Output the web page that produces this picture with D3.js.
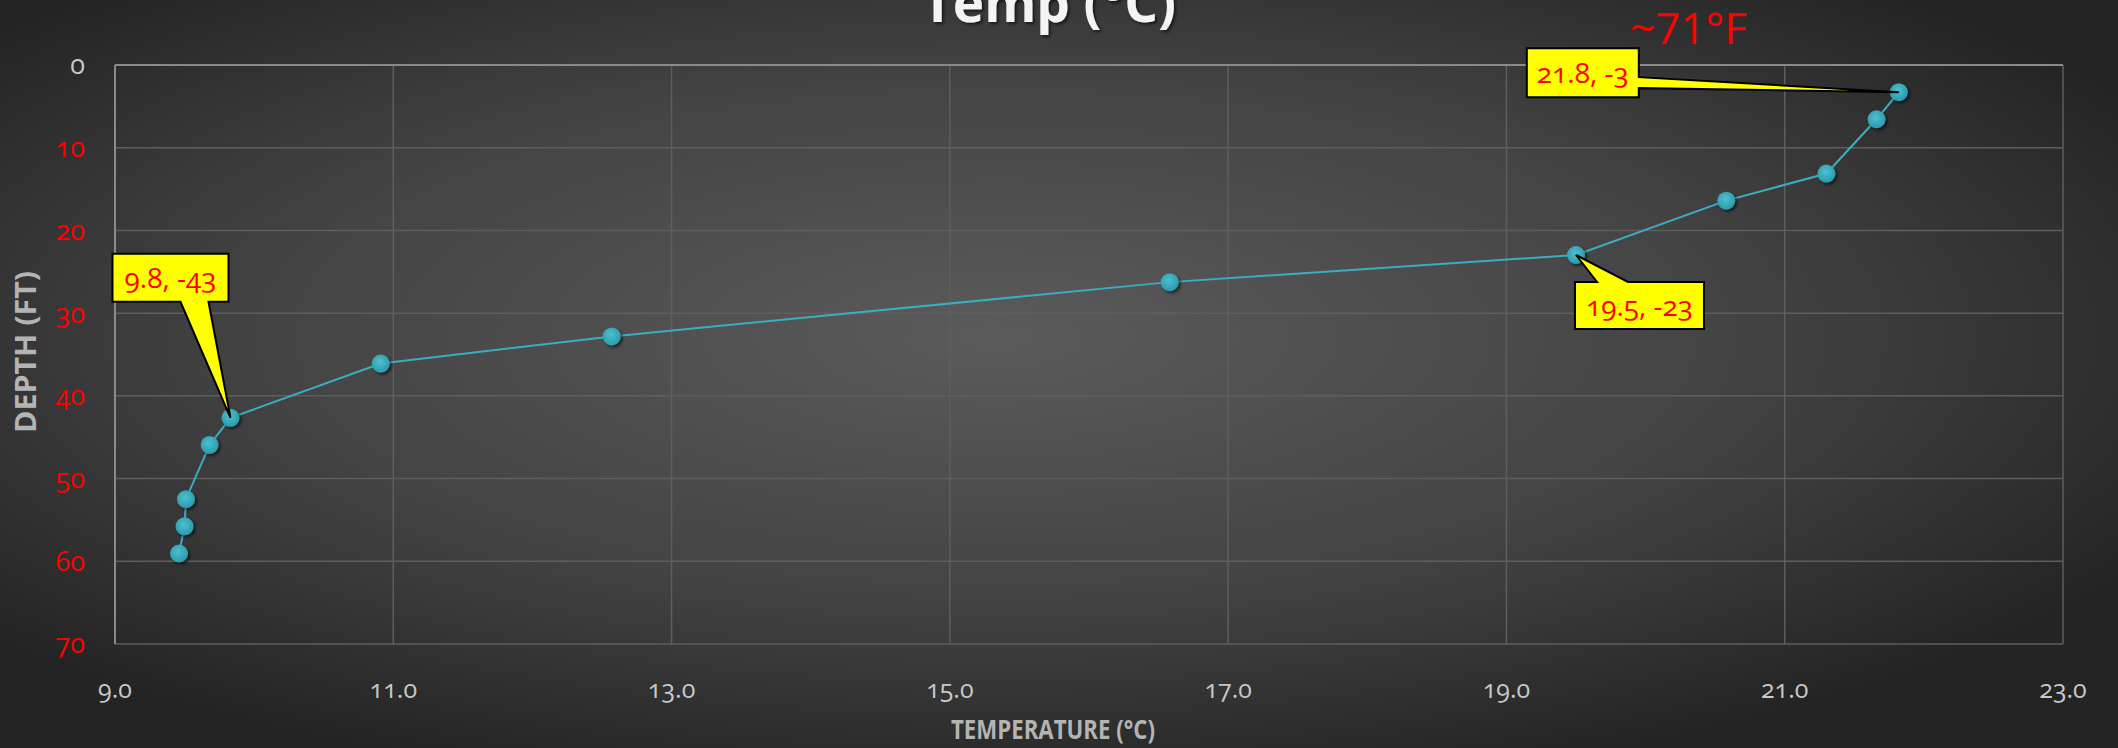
<!DOCTYPE html>
<html>
<head>
<meta charset="utf-8">
<script src="https://cdn.jsdelivr.net/npm/d3@7"></script>
<style>
  html, body { margin: 0; padding: 0; background: #2a2a2a; }
  svg text { font-family: "Open Sans", "Noto Sans", sans-serif; }
</style>
</head>
<body>
<div id="chart"></div>
<script>
// Temperature profile: temperature (°C) vs depth (ft)
const temperature = [21.82, 21.66, 21.30, 20.58, 19.50, 16.58, 12.57, 10.91, 9.83, 9.68, 9.51, 9.50, 9.46];
const depth = [3.28, 6.56, 13.12, 16.40, 22.97, 26.25, 32.81, 36.09, 42.65, 45.93, 52.49, 55.77, 59.06];

const xTicks = [9, 11, 13, 15, 17, 19, 21, 23];
const yTicks = [0, 10, 20, 30, 40, 50, 60, 70];

// callouts: index of the point they point to and their label
const calloutIndex = [8, 0, 4];
const calloutText = ["9.8, -43", "21.8, -3", "19.5, -23"];

const width = 2118;
const height = 748;
const margin = {top: 65, right: 55, bottom: 104, left: 115};

const svg = d3.select("#chart")
    .append("svg")
        .attr("width", width)
        .attr("height", height);

const defs = svg.append("defs");
// background glow, lighter in the middle
const bg = defs.append("radialGradient")
    .attr("id", "bg")
    .attr("cx", "0.47").attr("cy", "0.45").attr("r", "0.62");
bg.append("stop").attr("offset", "0%").attr("stop-color", "#5b5b5b");
bg.append("stop").attr("offset", "55%").attr("stop-color", "#444");
bg.append("stop").attr("offset", "100%").attr("stop-color", "#242424");

const shadow = defs.append("filter").attr("id", "shadow")
    .attr("x", "-20%").attr("y", "-20%").attr("width", "140%").attr("height", "160%");
shadow.append("feDropShadow")
    .attr("dx", 2).attr("dy", 2).attr("stdDeviation", 1.5)
    .attr("flood-color", "#000").attr("flood-opacity", 0.6);

// marker shading
const dot = defs.append("radialGradient")
    .attr("id", "dot").attr("cx", "0.45").attr("cy", "0.4").attr("r", "0.6");
dot.append("stop").attr("offset", "0%").attr("stop-color", "#4cc0d0");
dot.append("stop").attr("offset", "100%").attr("stop-color", "#2b9aac");

svg.append("rect")
    .attr("width", width)
    .attr("height", height)
    .attr("fill", "url(#bg)");

const x = d3.scaleLinear()
    .domain([9, 23])
    .range([margin.left, width - margin.right]);
const y = d3.scaleLinear()
    .domain([0, 70])
    .range([margin.top, height - margin.bottom]);

// gridlines
svg.append("g")
    .selectAll("line")
    .data(yTicks.slice(1))
    .join("line")
        .attr("x1", x(9)).attr("x2", x(23))
        .attr("y1", d => y(d)).attr("y2", d => y(d))
        .attr("stroke", "#5e5e5e")
        .attr("stroke-width", 1.5);
svg.append("g")
    .selectAll("line")
    .data(xTicks.slice(1))
    .join("line")
        .attr("x1", d => x(d)).attr("x2", d => x(d))
        .attr("y1", y(0)).attr("y2", y(70))
        .attr("stroke", "#5e5e5e")
        .attr("stroke-width", 1.5);

// axis lines (x axis crosses at depth 0, at the top)
svg.append("line")
    .attr("x1", x(9)).attr("x2", x(23))
    .attr("y1", y(0)).attr("y2", y(0))
    .attr("stroke", "#8a8a8a").attr("stroke-width", 2);
svg.append("line")
    .attr("x1", x(9)).attr("x2", x(9))
    .attr("y1", y(0)).attr("y2", y(70))
    .attr("stroke", "#8a8a8a").attr("stroke-width", 2);

// tick labels
svg.append("g")
    .selectAll("text")
    .data(xTicks)
    .join("text")
        .attr("x", d => x(d))
        .attr("y", 698)
        .attr("text-anchor", "middle")
        .attr("fill", "#c8c8c8")
        .style("font-size", "25px")
        .style("font-variant-numeric", "oldstyle-nums")
        .text(d => d3.format(".1f")(d));
svg.append("g")
    .selectAll("text")
    .data(yTicks)
    .join("text")
        .attr("x", margin.left - 30)
        .attr("y", d => y(d))
        .attr("dy", "0.35em")
        .attr("text-anchor", "end")
        .attr("fill", d => d === 0 ? "#c8c8c8" : "#ff0000")
        .style("font-size", "27px")
        .style("font-variant-numeric", "oldstyle-nums")
        .text(d => d);

// axis titles (narrow, like the original condensed face)
svg.append("text")
    .attr("x", 1053)
    .attr("y", 739)
    .attr("text-anchor", "middle")
    .attr("fill", "#b4b4b4")
    .attr("textLength", 204)
    .attr("lengthAdjust", "spacingAndGlyphs")
    .style("font-size", "27px")
    .style("font-weight", "bold")
    .text("TEMPERATURE (°C)");
svg.append("text")
    .attr("transform", "translate(36, 352) rotate(-90)")
    .attr("text-anchor", "middle")
    .attr("fill", "#b4b4b4")
    .attr("textLength", 162)
    .attr("lengthAdjust", "spacingAndGlyphs")
    .style("font-size", "28px")
    .style("font-weight", "bold")
    .text("DEPTH (FT)");

// chart title, cut off at the top
svg.append("text")
    .attr("x", 1049)
    .attr("y", 22)
    .attr("text-anchor", "middle")
    .attr("fill", "#f4f4f4")
    .attr("filter", "url(#shadow)")
    .style("font-size", "53px")
    .style("font-weight", "bold")
    .text("Temp (°C)");

// profile line
const pts = temperature.map((t, i) => [t, depth[i]]);
svg.append("path")
    .datum(pts)
    .attr("d", d3.line().x(d => x(d[0])).y(d => y(d[1])))
    .attr("fill", "none")
    .attr("stroke", "#3aaec0")
    .attr("stroke-width", 2);

svg.append("g")
    .selectAll("circle")
    .data(pts)
    .join("circle")
        .attr("cx", d => x(d[0]))
        .attr("cy", d => y(d[1]))
        .attr("r", 9)
        .attr("fill", "url(#dot)")
        .attr("filter", "url(#shadow)");

// callouts: box offset from the point, and where the pointer leaves the box
const calloutBox = [
    {dx: -118, dy: -164, w: 116, h: 48, base: "bottom", b1: 68, b2: 96},
    {dx: -372, dy: -44, w: 112, h: 49, base: "right", b1: 29, b2: 40},
    {dx: -1, dy: 27, w: 129, h: 47, base: "top", b1: 22, b2: 53}
];

calloutIndex.forEach((idx, k) => {
    const px = x(temperature[idx]);
    const py = y(depth[idx]);
    const c = calloutBox[k];
    const bx = px + c.dx;
    const by = py + c.dy;
    let path;
    // outline of box with the pointer wedge in one path
    if (c.base === "bottom") {
        path = `M${bx},${by}H${bx + c.w}V${by + c.h}H${bx + c.b2}L${px},${py}L${bx + c.b1},${by + c.h}H${bx}Z`;
    } else if (c.base === "right") {
        path = `M${bx},${by}H${bx + c.w}V${by + c.b1}L${px},${py}L${bx + c.w},${by + c.b2}V${by + c.h}H${bx}Z`;
    } else {
        path = `M${bx},${by}H${bx + c.b1}L${px},${py}L${bx + c.b2},${by}H${bx + c.w}V${by + c.h}H${bx}Z`;
    }
    svg.append("path")
        .attr("d", path)
        .attr("fill", "#ffff00")
        .attr("stroke", "#000")
        .attr("stroke-width", 2)
        .attr("stroke-linejoin", "miter");
    svg.append("text")
        .attr("x", bx + c.w / 2)
        .attr("y", by + c.h / 2)
        .attr("dy", "0.36em")
        .attr("text-anchor", "middle")
        .attr("fill", "#ff0000")
        .style("font-size", "28px")
        .style("font-variant-numeric", "oldstyle-nums")
        .text(calloutText[k]);
});

// Fahrenheit note
svg.append("text")
    .attr("x", 1630)
    .attr("y", 44)
    .attr("fill", "#ff0000")
    .style("font-size", "44px")
    .text("~71°F");
</script>
</body>
</html>
